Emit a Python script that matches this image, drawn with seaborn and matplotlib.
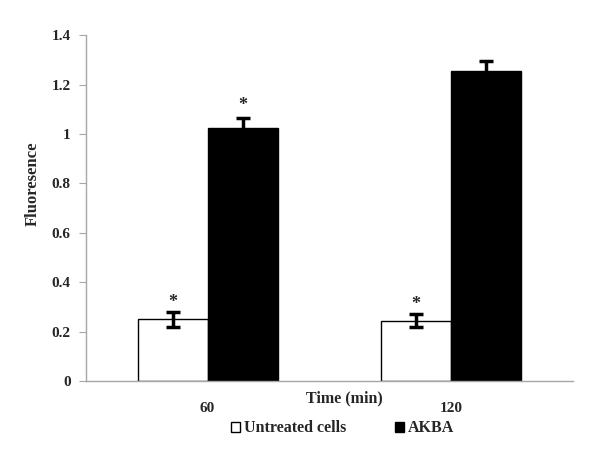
import numpy as np
import pandas as pd
import matplotlib
matplotlib.use('Agg')
import matplotlib.pyplot as plt
import seaborn as sns
from matplotlib.patches import Patch

# -- Data --
times = ['60', '120']
groups = ['Untreated cells', 'AKBA']
untreated = [0.25, 0.245]
untreated_err = [0.03, 0.025]
akba = [1.025, 1.255]
akba_err = [0.04, 0.04]
star_untreated = [True, True]
star_akba = [True, False]

df = pd.DataFrame({
    'time': times * 2,
    'group': [groups[0]] * 2 + [groups[1]] * 2,
    'value': untreated + akba,
})

sns.set_style('white')
plt.rcParams['font.family'] = ['Liberation Serif', 'DejaVu Serif']
plt.rcParams['font.weight'] = 'bold'

fig = plt.figure(figsize=(6, 4.62), dpi=100)
ax = fig.add_axes([0.143, 0.175, 0.812, 0.749])

sns.barplot(
    data=df, x='time', y='value', hue='group', order=times,
    hue_order=groups, palette=['white', 'black'], errorbar=None,
    width=0.575, edgecolor='black', linewidth=1, ax=ax, legend=False
)

# -- error bars & stars --
off = 0.575 / 4
x = np.arange(len(times))
ax.errorbar(x - off, untreated, yerr=untreated_err, fmt='none', ecolor='black',
            elinewidth=2.5, capsize=5, capthick=2.5)
ax.errorbar(x + off, akba, yerr=akba_err, fmt='none', ecolor='black',
            elinewidth=2.5, capsize=5, capthick=2.5)
for i in range(len(times)):
    if star_untreated[i]:
        ax.text(x[i] - off, untreated[i] + untreated_err[i] + 0.04, '*',
                ha='center', va='center', fontsize=13)
    if star_akba[i]:
        ax.text(x[i] + off, akba[i] + akba_err[i] + 0.05, '*',
                ha='center', va='center', fontsize=13)

# -- axes --
ax.set_xlim(-0.5, 1.5)
ax.set_ylim(0, 1.4)
ax.set_yticks(np.arange(0, 1.41, 0.2))
ax.set_yticklabels(['0', '0.2', '0.4', '0.6', '0.8', '1', '1.2', '1.4'],
                   fontsize=11, fontweight='bold')
ax.set_xticks([-0.5, 0.5, 1.5])
ax.set_xticklabels([])
ax.set_xticks(x, minor=True)
ax.set_xticklabels(times, minor=True, fontsize=11, fontweight='bold')
ax.tick_params(axis='x', which='minor', length=0, pad=15)
ax.tick_params(axis='x', which='major', length=5, color='#a6a6a6', direction='out')
ax.tick_params(axis='y', length=5, color='#a6a6a6', direction='out', left=True, pad=6)

for s in ['top', 'right']:
    ax.spines[s].set_visible(False)
for s in ['left', 'bottom']:
    ax.spines[s].set_color('#a6a6a6')
    ax.spines[s].set_linewidth(1)

ax.set_xlabel('Time (min)', fontsize=11.5, fontweight='bold')
ax.xaxis.set_label_coords(0.53, -0.028)
ax.set_ylabel('Fluoresence', fontsize=12, fontweight='bold')
ax.yaxis.set_label_coords(-0.092, 0.57)

# -- legend --
handles = [Patch(facecolor='white', edgecolor='black', label=groups[0]),
           Patch(facecolor='black', edgecolor='black', label=groups[1])]
fig.legend(handles=handles, loc='center', bbox_to_anchor=(0.571, 0.073), ncol=2,
           frameon=False, handlelength=0.6, handleheight=0.6, handletextpad=0.25,
           columnspacing=3.0, prop={'size': 11.5, 'weight': 'bold'})

fig.savefig('out.png', dpi=100)
